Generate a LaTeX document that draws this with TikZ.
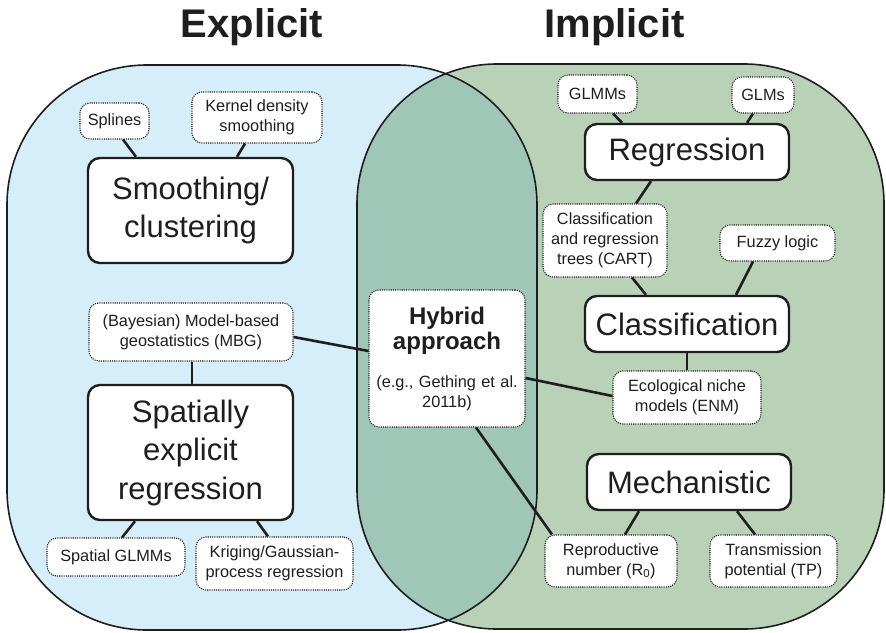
\documentclass[tikz,border=0pt]{standalone}
\usepackage{fontspec}
\setmainfont{Liberation Sans}
\usetikzlibrary{calc}
\definecolor{bluefill}{RGB}{214,238,250}
\definecolor{greenfill}{RGB}{185,209,183}
\definecolor{overlapfill}{RGB}{159,198,182}
\definecolor{ink}{RGB}{30,30,30}
\begin{document}
\begin{tikzpicture}[x=1pt,y=-1pt,
  big/.style={draw=ink, line width=2.4pt, rounded corners=12pt, fill=white, align=center, inner sep=0pt, font=\fontsize{31}{38.5}\selectfont, text=ink},
  small/.style={draw=ink, line width=1.1pt, dash pattern=on 1.1pt off 1.1pt, rounded corners=10pt, fill=white, align=center, inner sep=0pt, font=\fontsize{16.3}{20}\selectfont, text=ink},
  conn/.style={draw=ink, line width=2.6pt},
  venn/.style={draw=ink, line width=1.6pt, rounded corners=140pt},
  title/.style={anchor=base, font=\fontsize{40}{46}\selectfont\bfseries, text=ink}]
\useasboundingbox (0,0) rectangle (886,632);
% Venn regions
\fill[bluefill, rounded corners=140pt] (7,65) rectangle (537,630);
\fill[greenfill, rounded corners=140pt] (357,64) rectangle (884,629);
\begin{scope}
  \clip[rounded corners=140pt] (7,65) rectangle (537,630);
  \fill[overlapfill, rounded corners=140pt] (357,64) rectangle (884,629);
\end{scope}
\draw[venn] (7,65) rectangle (537,630);
\draw[venn] (357,64) rectangle (884,629);
% Titles
\node[title] (texp) at (252,37) {Explicit};
\node[title] (timp) at (614.5,37) {Implicit};
% Explicit side
\node[small, minimum width=69pt, minimum height=36pt] (spl) at (114.5,121) {Splines};
\node[small, minimum width=130pt, minimum height=51pt] (kds) at (257,117.5) {Kernel density\\smoothing};
\node[big, minimum width=205pt, minimum height=105pt] (smo) at (190.5,210.5) {Smoothing/\\clustering};
\node[small, minimum width=204pt, minimum height=58pt] (mbg) at (191,332) {(Bayesian) Model-based\\geostatistics (MBG)};
\node[big, minimum width=205pt, minimum height=135pt] (ser) at (190.5,452.5) {Spatially\\explicit\\regression};
\node[small, minimum width=138pt, minimum height=38pt] (sgl) at (116,557) {Spatial GLMMs};
\node[small, minimum width=157pt, minimum height=53pt] (krg) at (274.5,563.5) {Kriging/Gaussian-\\process regression};
% Hybrid
\node[small, minimum width=156pt, minimum height=137pt, text width=150pt] (hyb) at (447,358.5)
  {{\fontsize{24}{25}\selectfont\bfseries Hybrid\par approach\par}\vspace{19pt}{\fontsize{16.3}{19.5}\selectfont (e.g., Gething et al.\par 2011b)\par}};
% Implicit side
\node[small, minimum width=79pt, minimum height=38pt] (glmm) at (597.5,94) {GLMMs};
\node[small, minimum width=62pt, minimum height=36pt] (glm) at (763,95) {GLMs};
\node[big, minimum width=204pt, minimum height=56pt] (reg) at (687,152) {Regression};
\node[small, minimum width=124pt, minimum height=73pt] (cart) at (605,240.5) {Classification\\and regression\\trees (CART)};
\node[small, minimum width=115pt, minimum height=36pt] (fuz) at (777.5,243) {Fuzzy logic};
\node[big, minimum width=204pt, minimum height=56pt] (cla) at (687,324) {Classification};
\node[small, minimum width=148pt, minimum height=53pt] (enm) at (687,397.5) {Ecological niche\\models (ENM)};
\node[big, minimum width=204pt, minimum height=56pt] (mec) at (689,482) {Mechanistic};
\node[small, minimum width=132pt, minimum height=52pt] (rep) at (611,561) {Reproductive\\number (R\textsubscript{0})};
\node[small, minimum width=127pt, minimum height=52pt] (tra) at (773.5,561) {Transmission\\potential (TP)};
% Connectors
\draw[conn] ([xshift=8.5pt]spl.south) -- ([xshift=-54.5pt]smo.north);
\draw[conn] ([xshift=-12pt]kds.south) -- ([xshift=46.5pt]smo.north);
\draw[conn] ([xshift=1pt]mbg.south) -- ([xshift=1.5pt]ser.north);
\draw[conn] ([xshift=-55.5pt]ser.south) -- ([xshift=6pt]sgl.north);
\draw[conn] ([xshift=66.5pt]ser.south) -- ([xshift=-6.5pt]krg.north);
\draw[conn] ([yshift=-5pt]mbg.east) -- ([yshift=7.5pt]hyb.west);
\draw[conn] ([yshift=-19.5pt]hyb.east) -- ([yshift=1.5pt]enm.west);
\draw[conn] ([xshift=29pt]hyb.south) -- ([xshift=-59pt]rep.north);
\draw[conn] ([xshift=15.5pt]glmm.south) -- ([xshift=-65pt]reg.north);
\draw[conn] ([xshift=-10pt]glm.south) -- ([xshift=60pt]reg.north);
\draw[conn] ([xshift=-36pt]reg.south) -- ([xshift=31pt]cart.north);
\draw[conn] ([xshift=27pt]cart.south) -- ([xshift=-41pt]cla.north);
\draw[conn] ([xshift=-24.5pt]fuz.south) -- ([xshift=49pt]cla.north);
\draw[conn] (cla.south) -- (enm.north);
\draw[conn] ([xshift=-50pt]mec.south) -- ([xshift=14pt]rep.north);
\draw[conn] ([xshift=48pt]mec.south) -- ([xshift=-18.5pt]tra.north);
\end{tikzpicture}
\end{document}
